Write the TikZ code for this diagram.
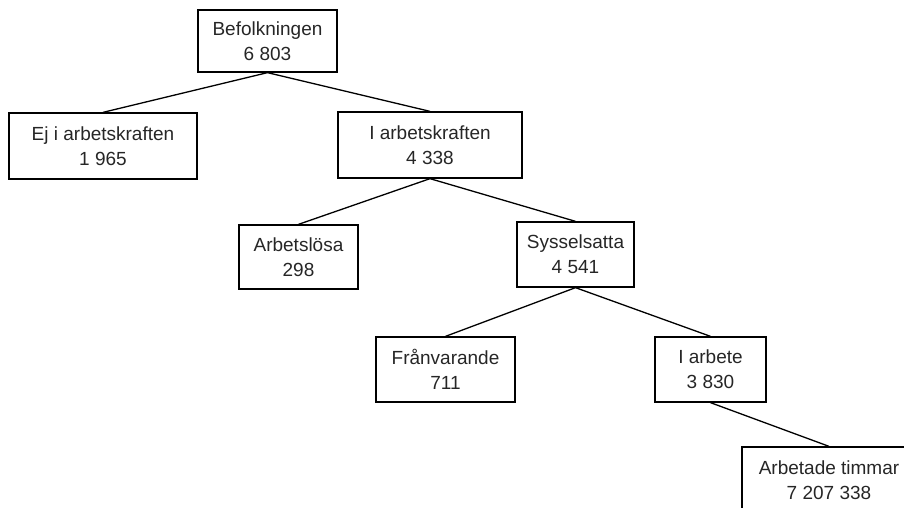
\documentclass[tikz,border=0pt]{standalone}
\usepackage{fontspec}
\setmainfont{Liberation Sans}
\begin{document}
\begin{tikzpicture}[x=1pt,y=-1pt,
  box/.style={draw=black, line width=1.3pt, inner sep=0pt, align=center,
    font=\fontsize{19}{25}\selectfont, text=black!85},
  link/.style={draw=black, line width=1.3pt}]
\useasboundingbox (0,0) rectangle (904,508);
\clip (0,0) rectangle (904,508);
\node[box, minimum width=139pt, minimum height=62pt] (bef) at (267.5,41) {Befolkningen\\6 803};
\node[box, minimum width=188pt, minimum height=66pt] (ej) at (103,146) {Ej i arbetskraften\\1 965};
\node[box, minimum width=184pt, minimum height=66pt] (iak) at (430,145) {I arbetskraften\\4 338};
\node[box, minimum width=119pt, minimum height=64pt] (al) at (298.5,257) {Arbetslösa\\298};
\node[box, minimum width=117pt, minimum height=65pt] (ss) at (575.5,254.5) {Sysselsatta\\4 541};
\node[box, minimum width=139pt, minimum height=65pt] (fv) at (445.5,369.5) {Frånvarande\\711};
\node[box, minimum width=111pt, minimum height=65pt] (ia) at (710.5,369.5) {I arbete\\3 830};
\node[box, minimum width=174pt, minimum height=66pt] (at) at (829,480) {Arbetade timmar\\7 207 338};
\draw[link] (bef.south) -- (ej.north);
\draw[link] (bef.south) -- (iak.north);
\draw[link] (iak.south) -- (al.north);
\draw[link] (iak.south) -- (ss.north);
\draw[link] (ss.south) -- (fv.north);
\draw[link] (ss.south) -- (ia.north);
\draw[link] (ia.south) -- (at.north);
\end{tikzpicture}
\end{document}
